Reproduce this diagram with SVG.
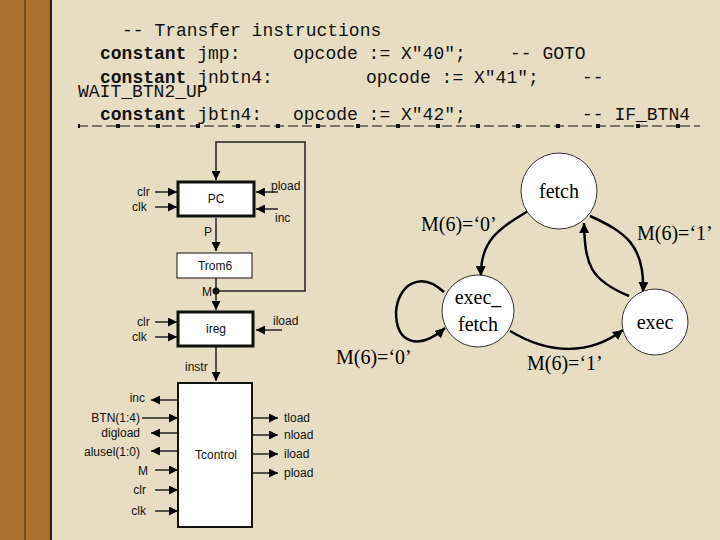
<svg xmlns="http://www.w3.org/2000/svg" width="720" height="540" viewBox="0 0 720 540">
<defs>
<marker id="a" viewBox="0 0 10 10" refX="10" refY="5" markerWidth="6" markerHeight="6" orient="auto"><path d="M0,0L10,5L0,10z" fill="#000"/></marker>
<marker id="b" viewBox="0 0 10 10" refX="10" refY="5" markerWidth="4" markerHeight="4" orient="auto"><path d="M0,0L10,5L0,10z" fill="#000"/></marker>
<pattern id="sq" x="116" y="123" width="40" height="6" patternUnits="userSpaceOnUse"><rect x="0" y="1" width="4" height="4" fill="#111"/></pattern>
</defs>
<style>
.code{font-family:"Liberation Mono",monospace;font-size:18px;fill:#111}
.b{font-weight:bold}
.s{font-family:"Liberation Sans",Arial,sans-serif;font-size:12px;fill:#111}
.t{font-family:"Liberation Serif","Times New Roman",serif;font-size:20px;fill:#000}
.w{stroke:#222;stroke-width:1.5;fill:none}
.box{fill:#fff;stroke:#111}
.st{fill:#fff;stroke:#333;stroke-width:1}
.e{fill:none;stroke:#000;stroke-width:2.5}
</style>
<rect width="720" height="540" fill="#e6ddc2"/>
<rect width="51" height="540" fill="#a8702a"/>
<line x1="25" y1="0" x2="25" y2="540" stroke="#3a2a10"/>
<line x1="51" y1="0" x2="51" y2="540" stroke="#222" stroke-width="2"/>
<g id="code">
<text class="code" x="122" y="36">-- Transfer instructions</text>
<text class="code" x="100" y="59"><tspan class="b">constant</tspan> jmp:</text>
<text class="code" x="293" y="59">opcode := X"40";</text>
<text class="code" x="510" y="59">-- GOTO</text>
<text class="code" x="100" y="83"><tspan class="b">constant</tspan> jnbtn4:</text>
<text class="code" x="366" y="83">opcode := X"41";</text>
<text class="code" x="582" y="83">--</text>
<text class="code" x="78" y="97">WAIT_BTN2_UP</text>
<text class="code" x="100" y="120"><tspan class="b">constant</tspan> jbtn4:</text>
<text class="code" x="293" y="120">opcode := X"42";</text>
<text class="code" x="582" y="120">-- IF_BTN4</text>
<line x1="78" y1="126" x2="700" y2="126" stroke="#111" stroke-dasharray="10,4"/>
<rect x="78" y="123" width="622" height="6" fill="url(#sq)"/>
</g>
<g id="connectors">
<path class="w" d="M216,291H305V142H216V180" marker-end="url(#a)"/>
<path class="w" d="M216,218V251" marker-end="url(#a)"/>
<path class="w" d="M216,278V310" marker-end="url(#a)"/>
<path class="w" d="M216,347V381" marker-end="url(#a)"/>
<circle cx="216" cy="291" r="3.5" fill="#111"/>
<path class="w" d="M155,192H177" marker-end="url(#a)"/>
<path class="w" d="M155,207H177" marker-end="url(#a)"/>
<path class="w" d="M278,192H256" marker-end="url(#a)"/>
<path class="w" d="M278,209H256" marker-end="url(#a)"/>
<path class="w" d="M155,322H177" marker-end="url(#a)"/>
<path class="w" d="M155,337H177" marker-end="url(#a)"/>
<path class="w" d="M282,330H256" marker-end="url(#a)"/>
<path class="w" d="M180,400H151" marker-end="url(#a)"/>
<path class="w" d="M142,418H178" marker-end="url(#a)"/>
<path class="w" d="M180,433H151" marker-end="url(#a)"/>
<path class="w" d="M180,451H151" marker-end="url(#a)"/>
<path class="w" d="M155,470H178" marker-end="url(#a)"/>
<path class="w" d="M155,490H178" marker-end="url(#a)"/>
<path class="w" d="M155,511H178" marker-end="url(#a)"/>
<path class="w" d="M252,418H278" marker-end="url(#a)"/>
<path class="w" d="M252,435H278" marker-end="url(#a)"/>
<path class="w" d="M252,454H278" marker-end="url(#a)"/>
<path class="w" d="M252,473H278" marker-end="url(#a)"/>
<path class="e" d="M528,211C500,228 480,240 481,276" marker-end="url(#b)"/>
<path class="e" d="M590,216C625,232 645,245 643,292" marker-end="url(#b)"/>
<path class="e" d="M629,296C590,280 585,265 584,223" marker-end="url(#b)"/>
<path class="e" d="M510,331C550,355 590,355 623,330" marker-end="url(#b)"/>
<path class="e" d="M444,292C420,270 398,285 396,312C396,345 420,350 445,328" marker-end="url(#b)"/>
</g>
<g id="pc"><rect x="178" y="182" width="76" height="34" class="box" fill="#fff" stroke-width="3"/><text class="s" x="216" y="203" text-anchor="middle">PC</text>
<text class="s" x="137" y="196">clr</text><text class="s" x="132" y="211">clk</text><text class="s" x="271" y="190">pload</text><text class="s" x="275" y="222">inc</text><text class="s" x="204" y="236">P</text></g>
<g id="trom6"><rect x="177" y="253" width="75" height="25" class="box"/><text class="s" x="215" y="270" text-anchor="middle">Trom6</text><text class="s" x="202" y="296">M</text></g>
<g id="ireg"><rect x="178" y="312" width="75" height="34" class="box" stroke-width="3"/><text class="s" x="216" y="333" text-anchor="middle">ireg</text>
<text class="s" x="137" y="326">clr</text><text class="s" x="132" y="341">clk</text><text class="s" x="273" y="325">iload</text><text class="s" x="185" y="371">instr</text></g>
<g id="tcontrol"><rect x="178" y="383" width="74" height="144" class="box" stroke-width="2"/><text class="s" x="216" y="459" text-anchor="middle">Tcontrol</text>
<g text-anchor="end"><text class="s" x="145" y="402">inc</text><text class="s" x="140" y="422">BTN(1:4)</text><text class="s" x="140" y="437">digload</text><text class="s" x="140" y="456">alusel(1:0)</text><text class="s" x="148" y="475">M</text><text class="s" x="146" y="494">clr</text><text class="s" x="146" y="515">clk</text></g>
<text class="s" x="284" y="422">tload</text><text class="s" x="284" y="439">nload</text><text class="s" x="284" y="458">iload</text><text class="s" x="284" y="477">pload</text></g>
<g id="fetch"><circle cx="559" cy="191" r="38" class="st"/><text class="t" x="559" y="198" text-anchor="middle" font-size="22">fetch</text></g>
<g id="exec_fetch"><circle cx="478" cy="311" r="36" class="st"/><text class="t" x="478" y="304" text-anchor="middle" font-size="22">exec_</text><text class="t" x="478" y="331" text-anchor="middle" font-size="22">fetch</text></g>
<g id="exec"><circle cx="655" cy="322" r="33" class="st"/><text class="t" x="655" y="329" text-anchor="middle" font-size="22">exec</text></g>
<g id="labels"><text class="t" x="421" y="231">M(6)=‘0’</text><text class="t" x="637" y="240">M(6)=‘1’</text><text class="t" x="336" y="364">M(6)=‘0’</text><text class="t" x="527" y="370">M(6)=‘1’</text></g>
</svg>
